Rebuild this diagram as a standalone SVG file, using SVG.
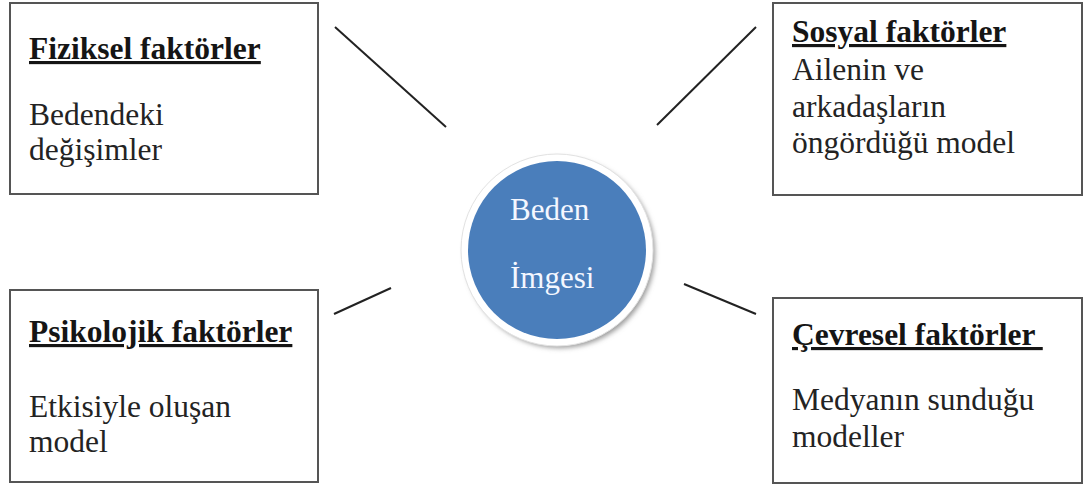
<svg xmlns="http://www.w3.org/2000/svg" width="1085" height="486" viewBox="0 0 1085 486">
<defs>
<style>
.box{fill:#fff;stroke:#555;stroke-width:2}
.ln{stroke:#222;stroke-width:2;fill:none}
.h{font-family:"Times New Roman","Liberation Serif",serif;font-size:31.5px;font-weight:bold;fill:#151515;text-decoration:underline}
.t{font-family:"Times New Roman","Liberation Serif",serif;font-size:31.5px;fill:#232323}
.c{font-family:"Times New Roman","Liberation Serif",serif;font-size:31px;fill:#f4f7ff}
</style>
<filter id="sh" x="-20%" y="-20%" width="140%" height="140%">
<feGaussianBlur stdDeviation="2.5"/>
</filter>
</defs>
<rect width="1085" height="486" fill="#fff"/>
<g id="connectors">
<line class="ln" x1="335" y1="27" x2="446" y2="127"/>
<line class="ln" x1="657" y1="125" x2="756" y2="27"/>
<line class="ln" x1="334" y1="314" x2="391" y2="288"/>
<line class="ln" x1="684" y1="284" x2="756" y2="314"/>
</g>
<g id="fiziksel">
<rect class="box" x="10" y="3" width="308" height="191"/>
<text class="h" x="29" y="59">Fiziksel faktörler</text>
<text class="t" x="29" y="125">Bedendeki</text>
<text class="t" x="29" y="160">değişimler</text>
</g>
<g id="sosyal">
<rect class="box" x="773" y="3" width="309" height="192"/>
<text class="h" x="792" y="42">Sosyal faktörler</text>
<text class="t" x="792" y="80">Ailenin ve</text>
<text class="t" x="792" y="117">arkadaşların</text>
<text class="t" x="792" y="153">öngördüğü model</text>
</g>
<g id="psikolojik">
<rect class="box" x="10" y="290" width="308" height="192"/>
<text class="h" x="29" y="342">Psikolojik faktörler</text>
<text class="t" x="29" y="417">Etkisiyle oluşan</text>
<text class="t" x="29" y="452">model</text>
</g>
<g id="cevresel">
<rect class="box" x="773" y="298" width="309" height="185"/>
<text class="h" x="792" y="345" xml:space="preserve">Çevresel faktörler </text>
<text class="t" x="792" y="410">Medyanın sunduğu</text>
<text class="t" x="792" y="447">modeller</text>
</g>
<g id="beden-imgesi">
<circle cx="560" cy="253" r="95" fill="#9a9a9a" filter="url(#sh)"/>
<circle cx="557" cy="250" r="96" fill="#fff" stroke="#e2e2e2" stroke-width="1"/>
<circle cx="557" cy="250" r="89" fill="#4a7ebb"/>
<text class="c" x="510" y="220">Beden</text>
<text class="c" x="510" y="288">İmgesi</text>
</g>
</svg>
